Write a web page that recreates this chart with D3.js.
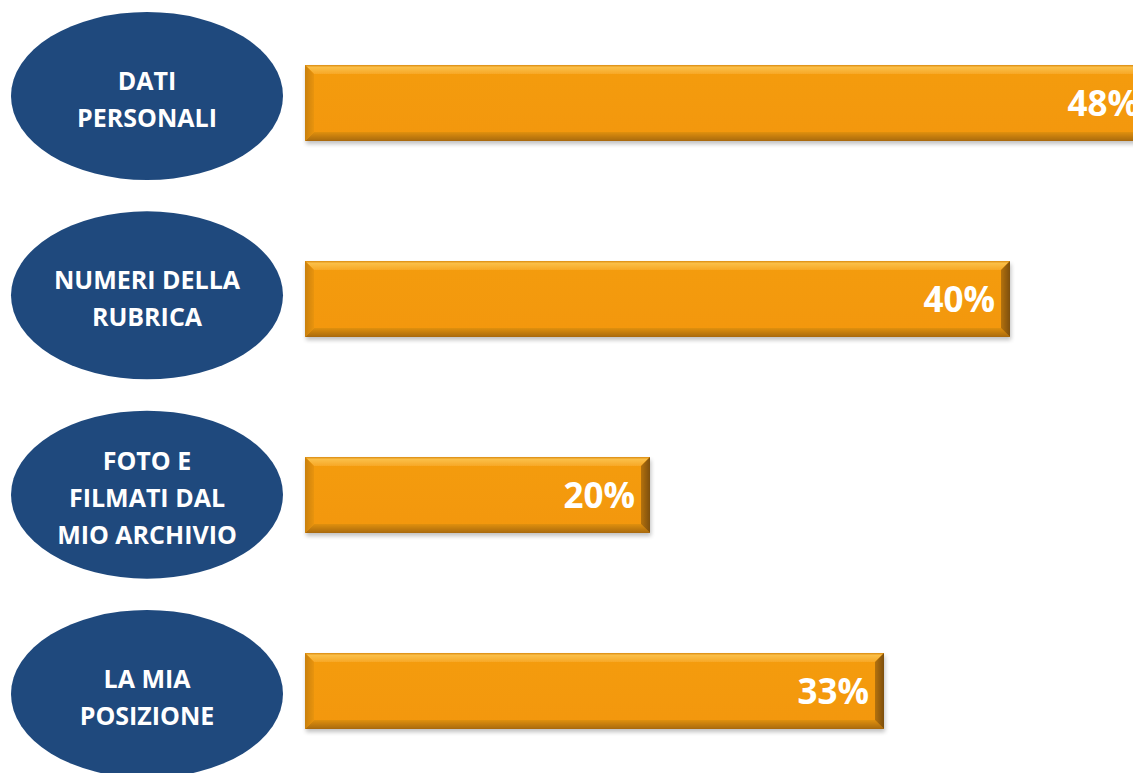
<!DOCTYPE html>
<html>
<head>
<meta charset="utf-8">
<script src="https://cdn.jsdelivr.net/npm/d3@7"></script>
<style>
  html, body { margin: 0; padding: 0; background: #ffffff; }
  svg { display: block; }
</style>
</head>
<body>
<svg id="chart" width="1133" height="773"></svg>
<script>
// ---- data ----
const categories = ["DATI PERSONALI", "NUMERI DELLA RUBRICA", "FOTO E FILMATI DAL MIO ARCHIVIO", "LA MIA POSIZIONE"];
const labelLines = [["DATI", "PERSONALI"], ["NUMERI DELLA", "RUBRICA"], ["FOTO E", "FILMATI DAL", "MIO ARCHIVIO"], ["LA MIA", "POSIZIONE"]];
const values = [0.48, 0.40, 0.20, 0.33];
const valueLabels = ["48%", "40%", "20%", "33%"];

const svg = d3.select("#chart");

const x = d3.scaleLinear().domain([0, 0.48]).range([290, 1154]);
const y = d3.scalePoint().domain(categories).range([103, 691]);
const yE = d3.scalePoint().domain(categories).range([96, 694]);
const barH = 76, barLeft = 305, bev = 9;

const defs = svg.append("defs");
function lg(id, stops, vertical) {
  const g = defs.append("linearGradient").attr("id", id)
    .attr("x1", 0).attr("y1", 0).attr("x2", vertical ? 0 : 1).attr("y2", vertical ? 1 : 0);
  stops.forEach(s => g.append("stop").attr("offset", s[0]).attr("stop-color", s[1]));
}
lg("gTop", [[0, "#d98a10"], [0.25, "#fbbf48"], [1, "#f7a826"]], true);
lg("gBot", [[0, "#e0900c"], [1, "#a8690a"]], true);
lg("gLeft", [[0, "#c98008"], [1, "#e99410"]], false);
lg("gRight", [[0, "#b47208"], [1, "#7d4f0c"]], false);
lg("gFace", [[0, "#f49c0e"], [1, "#f39708"]], true);

const defsF = defs.append("filter").attr("id", "shadow").attr("x", "-5%").attr("y", "-20%").attr("width", "110%").attr("height", "150%");
defsF.append("feGaussianBlur").attr("in", "SourceAlpha").attr("stdDeviation", 2);
defsF.append("feOffset").attr("dx", 1).attr("dy", 3).attr("result", "ob");
defsF.append("feComponentTransfer").append("feFuncA").attr("type", "linear").attr("slope", 0.25);
const fm = defsF.append("feMerge");
fm.append("feMergeNode");
fm.append("feMergeNode").attr("in", "SourceGraphic");

// ---- bars ----
const bars = svg.selectAll("g.bar").data(categories).join("g").attr("class", "bar")
  .attr("filter", "url(#shadow)");

bars.each(function (c, i) {
  const g = d3.select(this);
  const x0 = barLeft, x1 = x(values[i]);
  const y0 = y(c) - barH / 2, y1 = y(c) + barH / 2;
  const b = bev;
  g.append("rect").attr("x", x0).attr("y", y0).attr("width", x1 - x0).attr("height", barH).attr("fill", "url(#gFace)");
  const poly = (pts, fill) => g.append("polygon").attr("points", pts.map(p => p.join(",")).join(" ")).attr("fill", fill);
  poly([[x0, y0], [x1, y0], [x1 - b, y0 + b], [x0 + b, y0 + b]], "url(#gTop)");
  poly([[x0, y1], [x1, y1], [x1 - b, y1 - b], [x0 + b, y1 - b]], "url(#gBot)");
  poly([[x0, y0], [x0 + b, y0 + b], [x0 + b, y1 - b], [x0, y1]], "url(#gLeft)");
  poly([[x1, y0], [x1 - b, y0 + b], [x1 - b, y1 - b], [x1, y1]], "url(#gRight)");
});

svg.selectAll("text.val").data(categories).join("text").attr("class", "val")
  .attr("x", (c, i) => x(values[i]) - 15)
  .attr("y", c => y(c) + 13)
  .attr("text-anchor", "end")
  .attr("fill", "#ffffff")
  .attr("font-family", "'Open Sans', sans-serif")
  .attr("font-weight", 700)
  .attr("font-size", 35)
  .text((c, i) => valueLabels[i]);

// ---- ellipses ----
const ecx = 147, rx = 136, ry = 84;
svg.selectAll("ellipse.cat").data(categories).join("ellipse").attr("class", "cat")
  .attr("cx", ecx).attr("cy", c => yE(c))
  .attr("rx", rx).attr("ry", ry)
  .attr("fill", "#1f497d");

const lineH = 37;
svg.selectAll("text.cat").data(categories).join("text").attr("class", "cat")
  .attr("text-anchor", "middle")
  .attr("fill", "#ffffff")
  .attr("font-family", "'Open Sans', sans-serif")
  .attr("font-weight", 700)
  .attr("font-size", 25)
  .each(function (c, i) {
    const lines = labelLines[i];
    const cy = yE(c);
    const start = cy - (lines.length - 1) * lineH / 2 + 12;
    d3.select(this).selectAll("tspan").data(lines).join("tspan")
      .attr("x", ecx).attr("y", (l, k) => start + k * lineH).text(l => l);
  });
</script>
</body>
</html>
